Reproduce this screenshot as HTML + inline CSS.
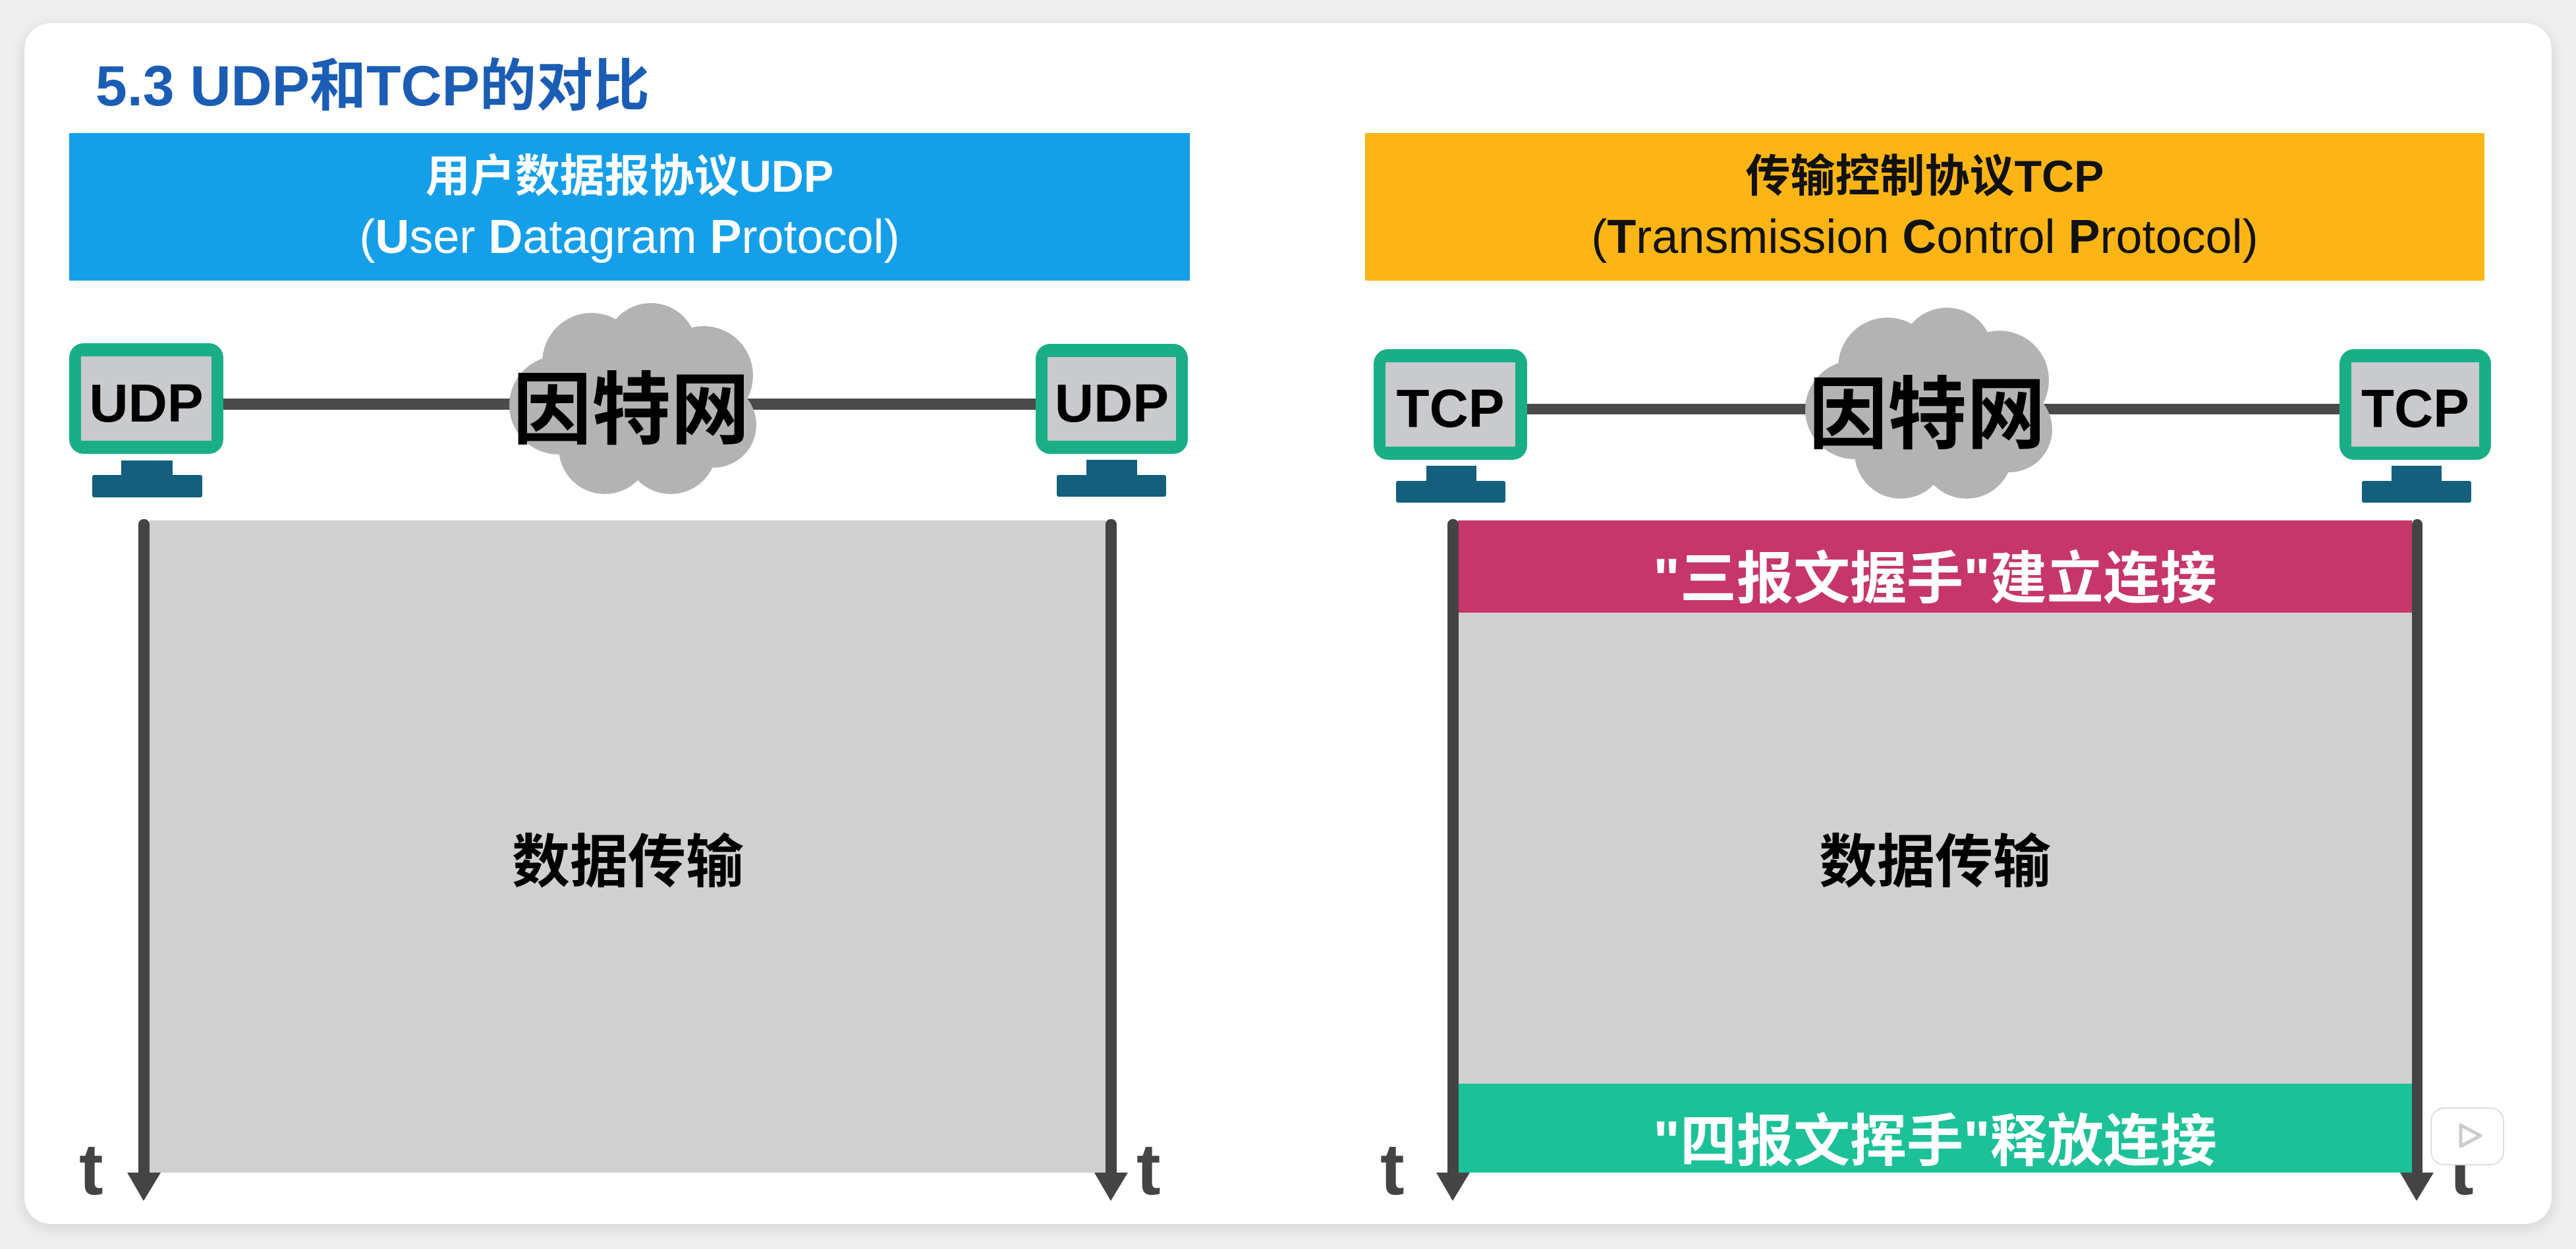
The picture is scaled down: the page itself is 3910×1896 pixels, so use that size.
<!DOCTYPE html>
<html><head><meta charset="utf-8"><style>
html,body{margin:0;padding:0;}
body{width:3910px;height:1896px;background:#efefef;position:relative;overflow:hidden;font-family:"Liberation Sans","Noto Sans CJK SC",sans-serif;}
.card{position:absolute;left:37px;top:35px;width:3836px;height:1823px;background:#fff;border-radius:40px;box-shadow:0 6px 24px rgba(0,0,0,0.12);}
.a{position:absolute;}
.t{position:absolute;font-weight:bold;white-space:nowrap;text-align:center;}
</style></head><body>
<div class="card"></div>
<div class="t" style="left:145px;top:60px;font-size:86px;color:#1b5db5;text-align:left;">5.3 UDP和TCP的对比</div>

<div class="a" style="left:105px;top:202px;width:1701px;height:224px;background:#159fe9;"></div>
<div class="t" style="left:105px;top:222px;width:1701px;font-size:68px;color:#fff;line-height:92px;">用户数据报协议UDP<br><span style="font-weight:normal;font-size:72px">(<b>U</b>ser <b>D</b>atagram <b>P</b>rotocol)</span></div>

<div class="a" style="left:2072px;top:202px;width:1699px;height:224px;background:#fdb516;"></div>
<div class="t" style="left:2072px;top:222px;width:1699px;font-size:68px;color:#111;line-height:92px;">传输控制协议TCP<br><span style="font-weight:normal;font-size:72px">(<b>T</b>ransmission <b>C</b>ontrol <b>P</b>rotocol)</span></div>

<svg class="a" style="left:0;top:0" width="3910" height="1896">
 <defs>
  <g id="cloud">
   <circle cx="-110" cy="10" r="75"/><circle cx="-60" cy="-55" r="75"/><circle cx="30" cy="-75" r="70"/><circle cx="110" cy="-35" r="75"/><circle cx="125" cy="40" r="65"/><circle cx="60" cy="75" r="70"/><circle cx="-40" cy="75" r="70"/><circle cx="0" cy="0" r="110"/>
  </g>
 </defs>
 <rect x="330" y="605" width="1250" height="17" fill="#4a4a4a"/>
 <use href="#cloud" x="958" y="605" fill="#b3b3b3"/>
 <rect x="2310" y="613" width="1250" height="16" fill="#4a4a4a"/>
 <use href="#cloud" x="2925" y="612" fill="#b3b3b3"/>

 <g fill="#1aae87">
  <rect x="105" y="521" width="234" height="168" rx="22"/>
  <rect x="1572" y="522" width="231" height="167" rx="22"/>
  <rect x="2085" y="530" width="233" height="168" rx="22"/>
  <rect x="3551" y="530" width="230" height="168" rx="22"/>
 </g>
 <g fill="#c9cacd">
  <rect x="123" y="541" width="198" height="128"/>
  <rect x="1590" y="542" width="195" height="127"/>
  <rect x="2103" y="550" width="197" height="128"/>
  <rect x="3569" y="550" width="194" height="128"/>
 </g>
 <g fill="#135f7c">
  <rect x="184" y="699" width="78" height="24"/><rect x="140" y="721" width="167" height="34" rx="3"/>
  <rect x="1649" y="698" width="77" height="24"/><rect x="1604" y="721" width="166" height="33" rx="3"/>
  <rect x="2165" y="707" width="76" height="24"/><rect x="2119" y="730" width="166" height="33" rx="3"/>
  <rect x="3630" y="707" width="76" height="24"/><rect x="3585" y="730" width="166" height="33" rx="3"/>
 </g>

 <rect x="227" y="790" width="1452" height="990" fill="#d0d0d0"/>
 <rect x="2213" y="790" width="1448" height="990" fill="#d0d0d0"/>
 <rect x="2213" y="790" width="1448" height="140" fill="#c6366a"/>
 <rect x="2213" y="1645" width="1448" height="135" fill="#1cc198"/>

 <g fill="#444">
  <rect x="210" y="788" width="17" height="1000" rx="8"/><polygon points="193,1780 244,1780 218,1823"/>
  <rect x="1678" y="788" width="17" height="1000" rx="8"/><polygon points="1661,1780 1712,1780 1686,1823"/>
  <rect x="2197" y="788" width="17" height="1000" rx="8"/><polygon points="2180,1780 2231,1780 2205,1823"/>
  <rect x="3661" y="788" width="16" height="1000" rx="8"/><polygon points="3643,1780 3694,1780 3668,1823"/>
 </g>
</svg>

<div class="t" style="left:105px;top:566px;width:234px;font-size:82px;color:#000;">UDP</div>
<div class="t" style="left:1572px;top:566px;width:231px;font-size:82px;color:#000;">UDP</div>
<div class="t" style="left:2085px;top:574px;width:233px;font-size:82px;color:#000;">TCP</div>
<div class="t" style="left:3551px;top:574px;width:230px;font-size:82px;color:#000;">TCP</div>

<div class="t" style="left:758px;top:525px;width:400px;font-size:120px;color:#000;">因特网</div>
<div class="t" style="left:2725px;top:532px;width:400px;font-size:120px;color:#000;">因特网</div>

<div class="t" style="left:227px;top:1238px;width:1452px;font-size:88px;color:#000;">数据传输</div>
<div class="t" style="left:2213px;top:1238px;width:1448px;font-size:88px;color:#000;">数据传输</div>
<div class="t" style="left:2213px;top:808px;width:1448px;font-size:86px;color:#fff;">"三报文握手"建立连接</div>
<div class="t" style="left:2213px;top:1662px;width:1448px;font-size:86px;color:#fff;">"四报文挥手"释放连接</div>

<div class="t" style="left:120px;top:1712px;font-size:110px;color:#444;">t</div>
<div class="t" style="left:1725px;top:1712px;font-size:110px;color:#444;">t</div>
<div class="t" style="left:2095px;top:1712px;font-size:110px;color:#444;">t</div>
<div class="t" style="left:3718px;top:1712px;font-size:110px;color:#444;">t</div>

<svg class="a" style="left:3685px;top:1660px" width="120" height="110">
 <line x1="45" y1="10" x2="55" y2="28" stroke="#fff" stroke-width="10" stroke-linecap="round"/>
 <line x1="95" y1="10" x2="85" y2="28" stroke="#fff" stroke-width="10" stroke-linecap="round"/>
 <rect x="5" y="22" width="110" height="86" rx="20" fill="#fff" stroke="#ddd" stroke-width="2"/>
 <path d="M50 48 L80 64 L50 80 Z" fill="none" stroke="#ccc" stroke-width="5" stroke-linejoin="round"/>
</svg>
</body></html>
